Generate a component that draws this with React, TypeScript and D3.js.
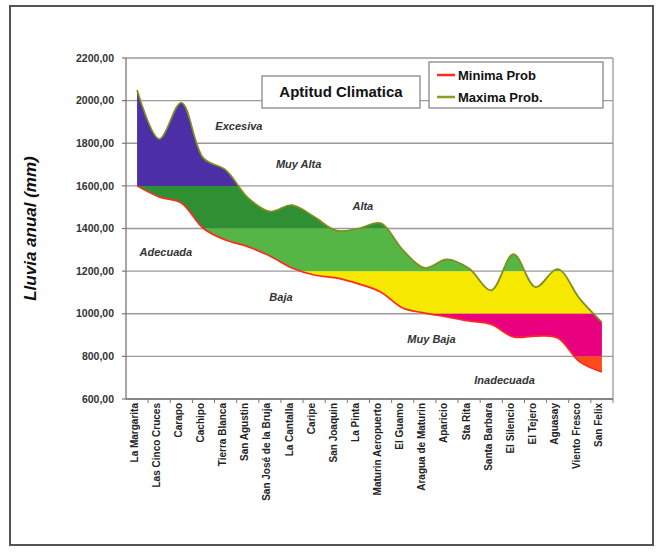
import React from "react";
import * as d3 from "d3";

const categories = [
  "La Margarita", "Las Cinco Cruces", "Carapo", "Cachipo", "Tierra Blanca",
  "San Agustin", "San José de la Bruja", "La Cantalla", "Caripe", "San Joaquin",
  "La Pinta", "Maturin Aeropuerto", "El Guamo", "Aragua de Maturin", "Aparicio",
  "Sta Rita", "Santa Barbara", "El Silencio", "El Tejero", "Aguasay",
  "Viento Fresco", "San Felix",
];
const maxProb = [2050, 1820, 1990, 1730, 1675, 1545, 1480, 1510, 1455, 1390, 1400, 1425, 1300, 1215, 1255, 1212, 1110, 1280, 1125, 1210, 1070, 960];
const minProb = [1600, 1548, 1520, 1400, 1346, 1315, 1271, 1215, 1182, 1168, 1140, 1102, 1027, 1003, 985, 966, 950, 891, 895, 886, 774, 727];
const yTicks = [600, 800, 1000, 1200, 1400, 1600, 1800, 2000, 2200];
const bandLows = [1600, 1400, 1200, 1000, 800, 600];
const bandHighs = [2200, 1600, 1400, 1200, 1000, 800];
const bandColors = ["#4c2ea6", "#2f8f33", "#55b646", "#f7e800", "#e8007f", "#ff4a1c"];
const zoneNames = ["Excesiva", "Muy Alta", "Alta", "Adecuada", "Baja", "Muy Baja", "Inadecuada"];
const zoneValues = [1880, 1700, 1505, 1290, 1080, 880, 690];
const zoneCatPos = [4.6, 7.3, 10.2, 1.3, 6.5, 13.3, 16.6];

const W = 663, H = 554;
const left = 126, right = 613, top = 58, bottom = 399;
const FONT = "'Liberation Sans', Arial, sans-serif";

export default function App() {
  const x = d3.scaleBand<string>().domain(categories).range([left, right]).padding(0);
  const bw = x.bandwidth();
  const cx = (i: number) => (x(categories[i]) as number) + bw / 2;
  const y = d3.scaleLinear().domain([600, 2200]).range([bottom, top]);
  const idx = categories.map((_, i) => i);
  const curve = d3.curveCatmullRom.alpha(0.5);
  const area = d3.area<number>().x(i => cx(i)).y0(i => y(minProb[i])).y1(i => y(maxProb[i])).curve(curve);
  const lineMax = d3.line<number>().x(i => cx(i)).y(i => y(maxProb[i])).curve(curve);
  const lineMin = d3.line<number>().x(i => cx(i)).y(i => y(minProb[i])).curve(curve);
  const areaD = area(idx) || "";

  return (
    <svg width={W} height={H} style={{ position: "absolute", left: 0, top: 0, background: "#fff" }} fontFamily={FONT}>
      <defs>
        {bandLows.map((lo, k) => (
          <clipPath id={`band${k}`} key={k}>
            <rect x={left} width={right - left} y={y(bandHighs[k])} height={y(lo) - y(bandHighs[k])} />
          </clipPath>
        ))}
      </defs>
      <rect x={0} y={0} width={W} height={H} fill="#fff" />
      <rect x={10} y={6} width={643} height={539} fill="#fff" stroke="#555" strokeWidth={2} />

      {yTicks.map(t => (
        <line key={t} x1={left} x2={right} y1={y(t)} y2={y(t)} stroke="#9a9a9a" strokeWidth={1.3} />
      ))}
      <line x1={right} x2={right} y1={top} y2={bottom} stroke="#9a9a9a" strokeWidth={1.3} />

      {bandLows.map((lo, k) => (
        <path key={k} d={areaD} fill={bandColors[k]} clipPath={`url(#band${k})`} />
      ))}
      <path d={lineMin(idx) || ""} fill="none" stroke="#ff2a1f" strokeWidth={1.7} />
      <path d={lineMax(idx) || ""} fill="none" stroke="#7f8f1c" strokeWidth={1.7} />

      <line x1={left} x2={left} y1={top} y2={bottom} stroke="#777" strokeWidth={1.3} />
      <line x1={left} x2={right} y1={bottom} y2={bottom} stroke="#777" strokeWidth={1.3} />
      {yTicks.map(t => (
        <g key={t}>
          <line x1={left - 4} x2={left} y1={y(t)} y2={y(t)} stroke="#777" strokeWidth={1.2} />
          <text x={114} y={y(t)} dy="0.35em" textAnchor="end" fontSize={10.5} fill="#333" fontWeight="bold">
            {d3.format(".2f")(t).replace(".", ",")}
          </text>
        </g>
      ))}
      {categories.map((c, i) => (
        <g key={c}>
          <line x1={(x(c) as number) + bw} x2={(x(c) as number) + bw} y1={bottom} y2={bottom + 4} stroke="#777" strokeWidth={1} />
          <text transform={`translate(${cx(i) - 3},${bottom + 4}) rotate(-90)`} dy="0.35em" textAnchor="end" fontSize={10} fontWeight="bold" fill="#222">
            {c}
          </text>
        </g>
      ))}
      {zoneNames.map((n, k) => (
        <text key={n} x={cx(0) + zoneCatPos[k] * bw} y={y(zoneValues[k])} dy="0.35em" textAnchor="middle" fontSize={11} fontWeight="bold" fontStyle="italic" fill="#333">
          {n}
        </text>
      ))}

      <text transform={`translate(36,${(top + bottom) / 2}) rotate(-90)`} textAnchor="middle" fontSize={17} fontWeight="bold" fontStyle="italic" fill="#111">
        Lluvia anual (mm)
      </text>

      <rect x={262} y={76} width={158} height={32} fill="#fff" stroke="#888" strokeWidth={1.3} />
      <text x={341} y={92} dy="0.35em" textAnchor="middle" fontSize={15} fontWeight="bold" fill="#111">Aptitud Climatica</text>

      <rect x={429} y={62} width={174} height={46} fill="#fff" stroke="#888" strokeWidth={1.3} />
      <line x1={437} x2={455} y1={75} y2={75} stroke="#ff2a1f" strokeWidth={2.5} />
      <text x={458} y={75} dy="0.35em" fontSize={13} fontWeight="bold" fill="#111">Minima Prob</text>
      <line x1={437} x2={455} y1={97} y2={97} stroke="#8a9e24" strokeWidth={2.5} />
      <text x={458} y={97} dy="0.35em" fontSize={13} fontWeight="bold" fill="#111">Maxima Prob.</text>
    </svg>
  );
}
